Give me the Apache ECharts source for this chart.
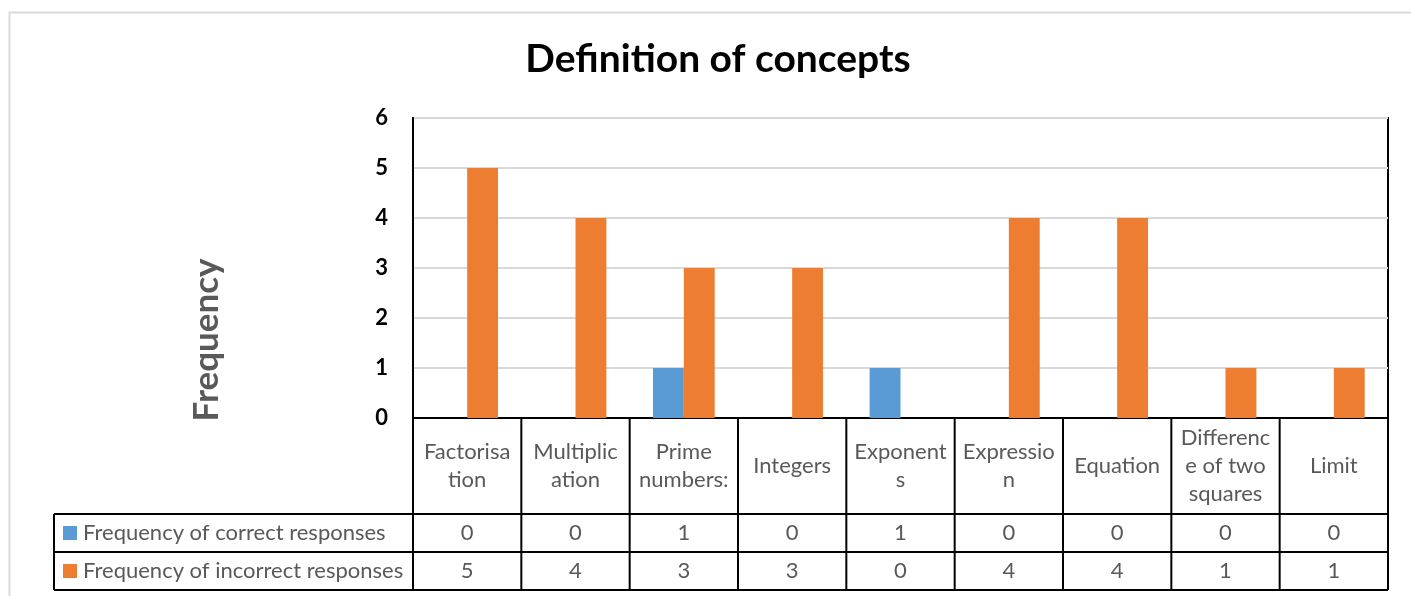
<!DOCTYPE html>
<html>
<head>
<meta charset="utf-8">
<script src="https://cdn.jsdelivr.net/npm/echarts@6/dist/echarts.min.js"></script>
<style>
  html, body { margin: 0; padding: 0; background: #fff; }
  #chart { width: 1411px; height: 596px; }
</style>
</head>
<body>
<div id="chart"></div>
<script>
// Concepts asked about, with the wrapped label shown in the data table
const categories = ['Factorisation', 'Multiplication', 'Prime numbers:', 'Integers', 'Exponents',
  'Expression', 'Equation', 'Difference of two squares', 'Limit'];
const categoryLabels = ['Factorisa\ntion', 'Multiplic\nation', 'Prime\nnumbers:', 'Integers', 'Exponent\ns',
  'Expressio\nn', 'Equation', 'Differenc\ne of two\nsquares', 'Limit'];

// Response counts per concept
const correctResponses = [0, 0, 1, 0, 1, 0, 0, 0, 0];
const incorrectResponses = [5, 4, 3, 3, 0, 4, 4, 1, 1];
const seriesNames = ['Frequency of correct responses', 'Frequency of incorrect responses'];
const seriesColors = ['#5B9BD5', '#ED7D31'];

// Value axis ticks
const yMin = 0, yMax = 6, yInterval = 1;

const FONT = 'Lato, "Open Sans", sans-serif';
const GRAY = '#595959';
const TABLE_FONT = '22px ' + FONT;

const chart = echarts.init(document.getElementById('chart'), null, { renderer: 'canvas' });

chart.setOption({
  animation: false,
  backgroundColor: '#fff',
  title: {
    text: 'Definition of concepts',
    left: 713,
    top: 35,
    textAlign: 'center',
    textStyle: { fontFamily: FONT, fontSize: 39, fontWeight: 'bold', color: '#000' }
  },
  grid: {
    left: 413, top: 118, right: 23, bottom: 178,
    show: true, borderColor: '#000', borderWidth: 2, backgroundColor: 'transparent'
  },
  xAxis: {
    type: 'category',
    data: categories,
    axisLine: { show: true, lineStyle: { color: '#000', width: 2 } },
    axisTick: { show: false },
    axisLabel: { show: false },
    splitLine: { show: false }
  },
  yAxis: {
    type: 'value',
    min: yMin, max: yMax, interval: yInterval,
    axisLine: { show: true, lineStyle: { color: '#000', width: 2 } },
    axisTick: { show: false },
    axisLabel: { margin: 25, fontFamily: FONT, fontSize: 22, fontWeight: 'bold', color: '#000' },
    splitLine: { lineStyle: { color: '#d9d9d9', width: 2 } }
  },
  series: [
    { name: seriesNames[0], type: 'bar', data: correctResponses, barGap: '0%', barCategoryGap: '43%',
      itemStyle: { color: seriesColors[0] } },
    { name: seriesNames[1], type: 'bar', data: incorrectResponses, barGap: '0%', barCategoryGap: '43%',
      itemStyle: { color: seriesColors[1] } }
  ]
});

// Data table under the plot, laid out from the axis scales
function buildTable() {
  const n = categories.length;
  const c0 = chart.convertToPixel({ xAxisIndex: 0 }, 0);
  const c1 = chart.convertToPixel({ xAxisIndex: 0 }, 1);
  const band = c1 - c0;
  const left = c0 - band / 2;
  const right = left + band * n;
  const yZero = chart.convertToPixel({ yAxisIndex: 0 }, 0);
  const labelRowH = 96, rowH = 38;
  const rowTop1 = yZero + labelRowH;
  const rowTop2 = rowTop1 + rowH;
  const tableBottom = rowTop2 + rowH;
  const legendLeft = 54;

  const els = [];
  const lineStyle = { stroke: '#000', lineWidth: 2 };
  const hLine = (x1, x2, y) => els.push({ type: 'line', shape: { x1, y1: y, x2, y2: y }, style: lineStyle, z: 100 });
  const vLine = (x, y1, y2) => els.push({ type: 'line', shape: { x1: x, y1, x2: x, y2 }, style: lineStyle, z: 100 });

  hLine(legendLeft, right, rowTop1);
  hLine(legendLeft, right, rowTop2);
  hLine(legendLeft, right, tableBottom);
  vLine(legendLeft, rowTop1, tableBottom);
  for (let i = 0; i <= n; i++) vLine(left + band * i, yZero, tableBottom);

  const cellText = (x, y, text) => els.push({
    type: 'text', x, y, z: 101,
    style: { text, fill: GRAY, font: TABLE_FONT, align: 'center', verticalAlign: 'middle', lineHeight: 28 }
  });

  for (let i = 0; i < n; i++) {
    const cx = chart.convertToPixel({ xAxisIndex: 0 }, i);
    cellText(cx, yZero + labelRowH / 2, categoryLabels[i]);
    cellText(cx, rowTop1 + rowH / 2, String(correctResponses[i]));
    cellText(cx, rowTop2 + rowH / 2, String(incorrectResponses[i]));
  }

  // legend keys and series names in the first column
  [rowTop1, rowTop2].forEach((top, k) => {
    const cy = top + rowH / 2;
    els.push({ type: 'rect', shape: { x: 63, y: cy - 7, width: 14, height: 14 }, style: { fill: seriesColors[k] }, z: 101 });
    els.push({ type: 'text', x: 83, y: cy, z: 101,
      style: { text: seriesNames[k], fill: GRAY, font: TABLE_FONT, align: 'left', verticalAlign: 'middle' } });
  });

  // value axis title
  els.push({ type: 'text', x: 207, y: 340, rotation: Math.PI / 2, z: 101,
    style: { text: 'Frequency', fill: GRAY, font: 'bold 35px ' + FONT, align: 'center', verticalAlign: 'middle' } });

  // chart area frame
  els.push({ type: 'rect', shape: { x: 9.5, y: 12.5, width: 1430, height: 620 },
    style: { fill: 'none', stroke: '#d9d9d9', lineWidth: 2 }, z: 0, silent: true });

  chart.setOption({ graphic: { elements: els } });
}
buildTable();
</script>
</body>
</html>
